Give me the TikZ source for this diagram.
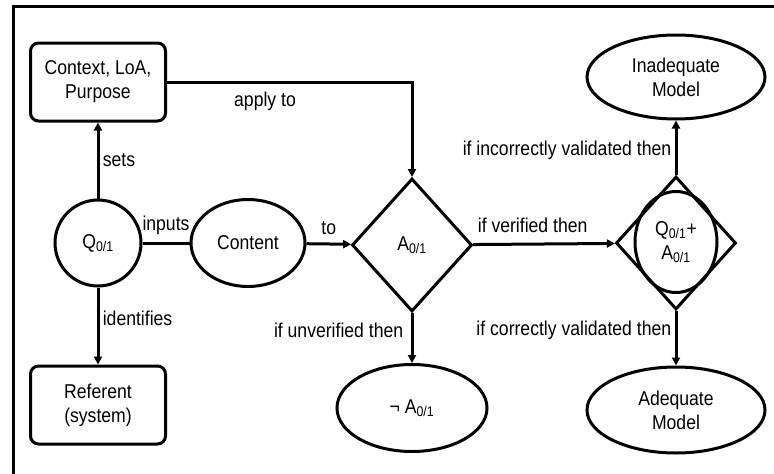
\documentclass[tikz,border=0pt]{standalone}
\usepackage{fontspec}
\setmainfont{Liberation Sans}[FakeStretch=0.88]
\usetikzlibrary{shapes.geometric,arrows.meta}

\newcommand{\zo}{\textsubscript{0/1}}

\tikzset{
  every node/.style={font=\fontsize{20}{24}\selectfont, align=center},
  box/.style={shape=rectangle, rounded corners=8pt, draw=black, minimum width=135pt, minimum height=78pt},
  oval/.style={shape=ellipse, draw=black, inner sep=0pt},
  rhomb/.style={shape=diamond, draw=black, minimum width=120pt, minimum height=133pt, inner sep=0pt},
  >={Triangle[length=8pt,width=8pt]}
}

\begin{document}
\begin{tikzpicture}[x=1pt,y=-1pt,line width=3pt]
  \clip (0,0) rectangle (774,474);
  \draw (13,6) rectangle (790,490);

  % left column
  \node[box] (ctx) at (98,82) {Context, LoA,\\Purpose};
  \node[shape=circle,draw=black,minimum size=86pt,inner sep=0pt] (q) at (98,243) {Q\zo};
  \node[box] (ref) at (98,405) {Referent\\(system)};

  % middle
  \node[oval,minimum width=114pt,minimum height=87pt] (cont) at (248,243) {Content};
  \node[rhomb] (a) at (412,245) {A\zo};
  \node[oval,minimum width=150pt,minimum height=87pt] (nota) at (412,408) {¬ A\zo};

  % right column
  \node[rhomb] (val) at (676,243) {};
  \node[oval,minimum width=82pt,minimum height=101pt] (qa) at (676,242) {Q\zo +\\A\zo};
  \node[oval,minimum width=178pt,minimum height=84pt] (inad) at (676,77) {Inadequate\\Model};
  \node[oval,minimum width=178pt,minimum height=86pt] (adeq) at (676,410) {Adequate\\Model};

  \path [->] (q) edge node[right] {sets} (ctx);
  \path [->] (q) edge node[right,pos=0.4] {identifies} (ref);
  \path (q) edge node[above,yshift=4pt] {inputs} (cont);
  \path [->] (cont) edge node[above,yshift=4pt] {to} (a);
  \draw [->] (ctx) -| node[below,pos=0.2,yshift=-5pt] {apply to} (a);
  \path [->] (a) edge node[above,pos=0.42,yshift=7pt] {if verified then} (val);
  \path [->] (a) edge node[left,pos=0.35,xshift=-4pt] {if unverified then} (nota);
  \path [->] (val) edge node[left,pos=0.45] {if incorrectly validated then} (inad);
  \path [->] (val) edge node[left,pos=0.35] {if correctly validated then} (adeq);
\end{tikzpicture}
\end{document}
